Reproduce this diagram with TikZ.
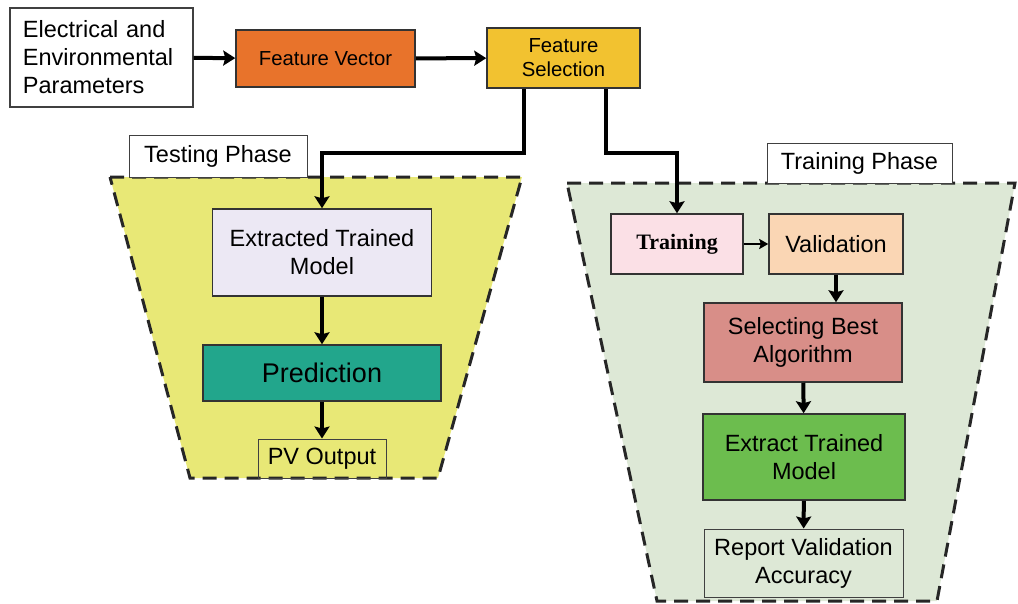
\documentclass[tikz,border=0pt]{standalone}
\usepackage{fontspec}
\setmainfont{Liberation Sans}
\newfontfamily\serifbold{Liberation Serif}
\usetikzlibrary{arrows.meta}
\usetikzlibrary{positioning}
\definecolor{vecorange}{RGB}{232,115,43}
\definecolor{selgold}{RGB}{242,194,48}
\definecolor{testbg}{RGB}{232,232,118}
\definecolor{trainbg}{RGB}{221,232,214}
\definecolor{lavender}{RGB}{236,232,244}
\definecolor{teal}{RGB}{34,166,140}
\definecolor{pink}{RGB}{251,224,230}
\definecolor{peach}{RGB}{250,214,180}
\definecolor{salmon}{RGB}{216,142,136}
\definecolor{leaf}{RGB}{108,189,78}
\tikzset{
	>={Stealth[length=12pt 0, width=15pt 0, inset=2pt]},
	punkt/.style={
		rectangle,
		draw=black!80, line width=1.5pt,
		inner sep=2pt,
		align=center,
		font=\fontsize{23.5}{28}\selectfont},
	etikett/.style={
		rectangle,
		draw=black!75, line width=1pt,
		inner sep=2pt,
		align=center,
		font=\fontsize{23.5}{28}\selectfont},
	phase/.style={draw=black!85, line width=3pt, dash pattern=on 14pt off 8pt},
	line/.style={draw, line width=4pt, ->},
	thinline/.style={draw, line width=2pt, -{Stealth[length=9pt 0, width=10pt 0, inset=1.5pt]}},
}
\begin{document}
\begin{tikzpicture}[x=1pt, y=-1pt]
	\useasboundingbox (0,0) rectangle (1018,603);
	% the two phases
	\path[phase, fill=testbg] (110,177) -- (522,177) -- (438,478) -- (190,478) -- cycle;
	\path[phase, fill=trainbg] (567,183) -- (1015,183) -- (937,601) -- (657,601) -- cycle;
	\node[etikett, fill=white, minimum width=178pt, minimum height=42pt] (testlabel) at (218,156) {Testing Phase};
	\node[etikett, fill=white, minimum width=185pt, minimum height=40pt] (trainlabel) at (859.5,163) {Training Phase};

	% input chain
	\node[etikett, fill=white, line width=1.2pt, minimum width=183pt, minimum height=99pt,
		text width=157pt, inner xsep=13pt, align=left] (params) at (101.5,57.5)
		{Electrical and\\Environmental\\Parameters};
	\node[punkt, fill=vecorange, minimum width=179pt, minimum height=57pt,
		font=\fontsize{20.3}{24}\selectfont] (fvector) at (325.5,58.5) {Feature Vector};
	\node[punkt, fill=selgold, minimum width=153pt, minimum height=60pt,
		font=\fontsize{20.3}{24}\selectfont] (fselect) at (563.5,58) {Feature\\Selection};

	% testing phase
	\node[punkt, fill=lavender, minimum width=219pt, minimum height=87pt] (extr) at (322,252.5) {Extracted Trained\\Model};
	\node[punkt, fill=teal, minimum width=238pt, minimum height=56pt,
		font=\fontsize{27}{32}\selectfont] (pred) at (322,373) {Prediction};
	\node[etikett, minimum width=128pt, minimum height=39pt] (pvout) at (322,458.5) {PV Output};

	% training phase
	\node[punkt, fill=pink, minimum width=132pt, minimum height=60pt,
		font=\serifbold\bfseries\fontsize{22}{26}\selectfont] (train) at (677,244) {Training};
	\node[punkt, fill=peach, minimum width=134pt, minimum height=60pt] (valid) at (836,244) {Validation};
	\node[punkt, fill=salmon, minimum width=198pt, minimum height=79pt] (best) at (803,342.5) {Selecting Best\\Algorithm};
	\node[punkt, fill=leaf, minimum width=202pt, minimum height=86pt] (extract) at (804,457) {Extract Trained\\Model};
	\node[etikett, minimum width=199pt, minimum height=68pt] (report) at (803.5,563) {Report Validation\\Accuracy};

	% connectors
	\path[line] (params) -- (fvector);
	\path[line] (fvector) -- (fselect);
	\path[line] ([xshift=-40pt]fselect.south) -- ++(0,64) -| (extr.north);
	\path[line] ([xshift=42pt]fselect.south) -- ++(0,64) -| (train.north);
	\path[line] (extr) -- (pred);
	\path[line] (pred) -- (pvout);
	\path[thinline] (train) -- (valid);
	\path[line] (valid.south) -- (valid.south |- best.north);
	\path[line] (best) -- (extract);
	\path[line] (extract) -- (report);
\end{tikzpicture}
\end{document}
